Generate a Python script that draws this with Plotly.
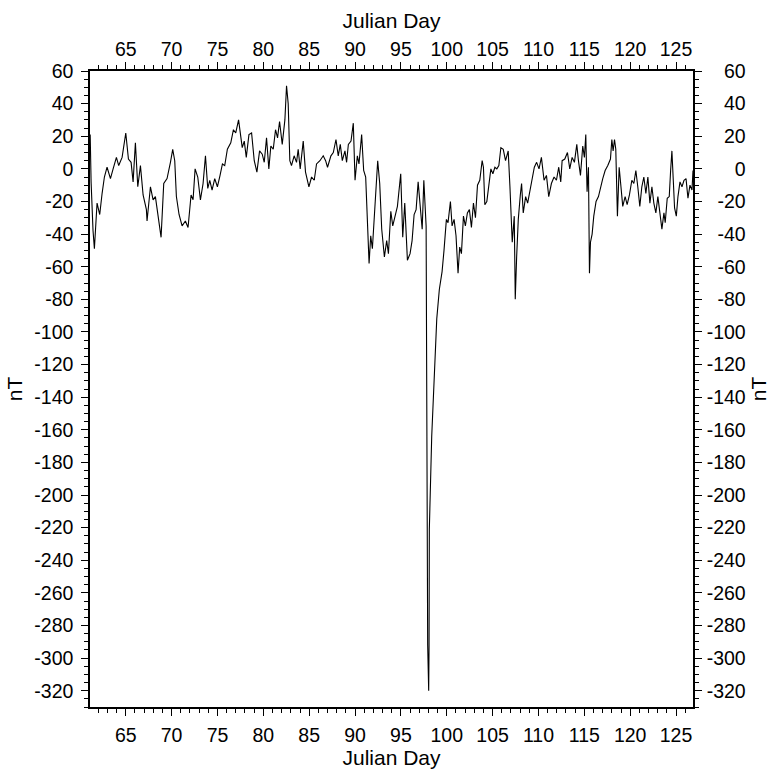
import plotly.graph_objects as go

# Julian day and magnetic field (nT)
julian_day = [
    61.12, 61.22, 61.43, 61.58, 61.87, 62.16, 62.42, 62.67, 62.96, 63.33, 63.62, 63.98,
    64.23, 64.6, 65.0, 65.29, 65.58, 65.8, 66.05, 66.31, 66.6, 66.89, 67.25, 67.32,
    67.69, 67.98, 68.23, 68.52, 68.85, 69.14, 69.5, 69.87, 70.12, 70.34, 70.52, 70.81,
    71.14, 71.5, 71.79, 72.12, 72.34, 72.56, 72.85, 73.14, 73.43, 73.69, 73.94, 74.16,
    74.41, 74.7, 74.99, 75.28, 75.54, 75.79, 76.08, 76.45, 76.74, 76.99, 77.3, 77.7,
    77.92, 78.14, 78.43, 78.72, 79.01, 79.3, 79.59, 79.88, 80.1, 80.35, 80.6, 80.82,
    81.08, 81.33, 81.55, 81.77, 82.06, 82.35, 82.53, 82.71, 82.89, 83.07, 83.36, 83.62,
    83.8, 84.02, 84.35, 84.6, 84.97, 85.26, 85.55, 85.8, 86.17, 86.53, 86.79, 87.0,
    87.37, 87.63, 87.92, 88.17, 88.39, 88.61, 88.9, 89.08, 89.27, 89.56, 89.81, 90.0,
    90.25, 90.43, 90.72, 90.94, 91.16, 91.53, 91.71, 91.89, 92.18, 92.47, 92.69, 92.91,
    93.2, 93.45, 93.64, 93.9, 94.11, 94.33, 94.62, 94.98, 95.2, 95.42, 95.71, 96.0,
    96.22, 96.44, 96.66, 96.88, 97.1, 97.32, 97.5, 97.68, 97.75, 97.92, 98.03, 98.07,
    98.1, 98.36, 98.65, 98.91, 99.19, 99.49, 99.7, 99.96, 100.14, 100.4, 100.58, 100.8,
    101.01, 101.23, 101.41, 101.6, 101.82, 102.03, 102.25, 102.47, 102.69, 102.91, 103.13, 103.35,
    103.6, 103.86, 104.0, 104.15, 104.37, 104.59, 104.81, 105.03, 105.25, 105.46, 105.68, 105.9,
    106.16, 106.41, 106.7, 106.89, 107.14, 107.36, 107.47, 107.62, 107.8, 108.02, 108.16, 108.34,
    108.6, 108.82, 109.07, 109.33, 109.55, 109.8, 110.06, 110.32, 110.61, 110.87, 111.12, 111.41,
    111.7, 111.96, 112.21, 112.43, 112.58, 112.87, 113.16, 113.41, 113.67, 113.92, 114.18, 114.36,
    114.58, 114.83, 115.01, 115.16, 115.3, 115.45, 115.56, 115.67, 115.85, 116.03, 116.28, 116.54,
    116.76, 117.01, 117.27, 117.56, 117.85, 118.0, 118.14, 118.29, 118.43, 118.61, 118.8, 119.01,
    119.19, 119.45, 119.67, 119.92, 120.18, 120.4, 120.62, 120.83, 121.05, 121.27, 121.49, 121.71,
    121.93, 122.15, 122.37, 122.58, 122.8, 123.02, 123.24, 123.46, 123.68, 123.82, 124.04, 124.26,
    124.41, 124.55, 124.7, 124.84, 125.03, 125.21, 125.43, 125.65, 125.87, 126.09, 126.3, 126.52,
    126.74, 126.85,
]
field_nT = [
    21, -8, -38, -49, -21, -28, -15, -5, 1, -6, 0, 7,
    2, 7, 22, 6, 4, -8, 16, -11, 2, -16, -25, -32,
    -11, -19, -17, -28, -42, -9, -6, 4, 12, 5, -17, -28,
    -35, -32, -36, -16, -19, 0, -5, -19, -9, 8, -12, -7,
    -13, -6, -11, -4, 3, 2, 12, 16, 24, 22, 30, 13,
    17, 7, 21, 22, 5, -2, 11, 9, 4, 19, 0, 14,
    12, 24, 19, 29, 15, 30, 51, 40, 5, 2, 8, 4,
    12, 0, 17, -2, -11, -5, -7, 3, 5, 8, 5, 1,
    8, 10, 18, 8, 15, 5, 11, 4, 15, 17, 28, -7,
    8, 3, 21, -1, -5, -58, -41, -49, -19, 5, -9, -37,
    -54, -44, -52, -26, -35, -29, -23, -3, -42, -21, -56, -52,
    -44, -28, -25, -8, -23, -37, -7, -31, -35, -292, -320, -292,
    -221, -164, -129, -92, -74, -63, -50, -31, -33, -20, -35, -31,
    -41, -64, -48, -52, -29, -35, -27, -25, -36, -21, -30, -10,
    -7, 5, 1, -22, -20, -9, 0, -3, 1, 0, 2, 13,
    12, 5, 11, -11, -45, -29, -80, -54, -31, -16, -9, -27,
    -17, -21, -13, -6, 1, 4, 0, 7, -7, -4, -17, -9,
    -5, -7, 1, -8, 5, 6, 10, 0, 7, 4, 15, 5,
    -4, 14, 7, 21, -14, 1, -64, -45, -40, -29, -20, -17,
    -11, -6, -1, 2, 6, 18, 11, 18, 12, -29, 1, -15,
    -23, -17, -22, -16, -7, -9, -1, -11, -23, -11, -5, -15,
    -5, -21, -11, -21, -27, -17, -29, -37, -27, -33, -18, -17,
    -1, 11, -7, -24, -29, -17, -8, -11, -7, -6, -18, -10,
    -13, -1,
]

x_range = [61.1, 126.85]
y_range = [-330, 60]
x_tick_vals = [65, 70, 75, 80, 85, 90, 95, 100, 105, 110, 115, 120, 125]
y_tick_vals = [60, 40, 20, 0, -20, -40, -60, -80, -100, -120, -140, -160, -180,
               -200, -220, -240, -260, -280, -300, -320]

FONT = "Arial, 'Liberation Sans', sans-serif"
TICK_SIZE = 19.5
TITLE_SIZE = 21


def left_label(v):
    return str(v)


def right_label(v):
    # pad so the labels line up on the right like in the reference
    digits = len(str(abs(v)))
    prefix = "" if v < 0 else "\u2004"
    return prefix + "\u2007" * (3 - digits) + str(v)


fig = go.Figure()
fig.add_trace(go.Scatter(x=julian_day, y=field_nT, mode="lines",
                         line=dict(color="black", width=1.1), showlegend=False,
                         hoverinfo="skip"))
fig.add_trace(go.Scatter(x=julian_day, y=field_nT, mode="lines", xaxis="x2", yaxis="y2",
                         line=dict(color="rgba(0,0,0,0)", width=0), showlegend=False,
                         hoverinfo="skip"))

common_x = dict(range=x_range, tickmode="array", tickvals=x_tick_vals,
                ticktext=[str(v) for v in x_tick_vals],
                ticks="outside", ticklen=7, tickwidth=1.2, tickcolor="black",
                minor=dict(dtick=1, tick0=0, ticks="outside", ticklen=4, tickwidth=1,
                           tickcolor="black", showgrid=False),
                showline=True, linecolor="black", linewidth=1.5,
                showgrid=False, zeroline=False, automargin=False,
                tickfont=dict(family=FONT, size=TICK_SIZE, color="black"))
common_y = dict(range=y_range, tickmode="array", tickvals=y_tick_vals,
                ticks="outside", ticklen=7, tickwidth=1.2, tickcolor="black",
                minor=dict(dtick=5, tick0=0, ticks="outside", ticklen=4, tickwidth=1,
                           tickcolor="black", showgrid=False),
                showline=True, linecolor="black", linewidth=1.5,
                showgrid=False, zeroline=False, automargin=False,
                tickfont=dict(family=FONT, size=TICK_SIZE, color="black"),
                title=dict(text="nT", font=dict(family=FONT, size=TITLE_SIZE, color="black"),
                           standoff=6))

x_title_font = dict(family=FONT, size=TITLE_SIZE, color="black")

fig.update_layout(
    width=772, height=771,
    margin=dict(l=90, r=79, t=71, b=64),
    paper_bgcolor="white", plot_bgcolor="white",
    xaxis=dict(**common_x, side="bottom", anchor="y", ticklabelstandoff=3,
               title=dict(text="Julian Day", font=x_title_font, standoff=5)),
    xaxis2=dict(**common_x, side="top", overlaying="x", anchor="y", ticklabelstandoff=-2,
                title=dict(text="Julian Day", font=x_title_font, standoff=4)),
    yaxis=dict(**common_y, side="left", anchor="x", ticklabelstandoff=4,
               ticktext=[left_label(v) for v in y_tick_vals]),
    yaxis2=dict(**common_y, side="right", overlaying="y", anchor="x", ticklabelstandoff=1,
                ticktext=[right_label(v) for v in y_tick_vals]),
    font=dict(family=FONT, color="black"),
)

fig.write_html("out.html")
